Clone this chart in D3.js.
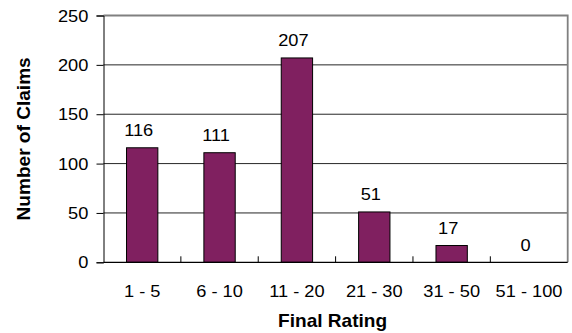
<!DOCTYPE html>
<html>
<head>
<meta charset="utf-8">
<script src="https://cdn.jsdelivr.net/npm/d3@7"></script>
<style>
  html, body { margin: 0; padding: 0; background: #fff; }
  svg { display: block; }
  text { font-family: "Liberation Sans", Arial, sans-serif; fill: #000; }
</style>
</head>
<body>
<script>
const categories = ["1 - 5", "6 - 10", "11 - 20", "21 - 30", "31 - 50", "51 - 100"];
const claims = [116, 111, 207, 51, 17, 0];
const yTicks = [0, 50, 100, 150, 200, 250];
const xTitle = "Final Rating";
const yTitle = "Number of Claims";

const W = 572, H = 333;
const mLeft = 103.5, mRight = 567.7, mTop = 15.5, mBottom = 262.3;
const SX = 1.14;

const svg = d3.select("body").append("svg").attr("width", W).attr("height", H);

const x = d3.scaleBand().domain(categories).range([mLeft, mRight])
  .paddingInner(0.595).paddingOuter(0.2975);
const xb = d3.scaleBand().domain(categories).range([mLeft, mRight]).padding(0);
const y = d3.scaleLinear().domain([0, 250]).range([mBottom, mTop]);

// gridlines
svg.append("g").selectAll("line").data(yTicks.filter(d => d > 0 && d < 250)).join("line")
  .attr("x1", mLeft).attr("x2", mRight)
  .attr("y1", d => y(d)).attr("y2", d => y(d))
  .attr("stroke", "#262626").attr("stroke-width", 1);

// plot border (top & right grey)
svg.append("path")
  .attr("d", `M${mLeft},${y(250)}H${mRight}V${mBottom}`)
  .attr("fill", "none").attr("stroke", "#808080").attr("stroke-width", 1.8);

// bars
svg.append("g").selectAll("rect").data(categories).join("rect")
  .attr("x", d => x(d))
  .attr("width", x.bandwidth())
  .attr("y", (d, i) => y(claims[i]))
  .attr("height", (d, i) => y(0) - y(claims[i]))
  .attr("fill", "#802060").attr("stroke", "#000").attr("stroke-width", 1);

// y axis
const yAxis = d3.axisLeft(y).tickValues(yTicks).tickSize(7).tickFormat("");
const ga = svg.append("g").attr("transform", `translate(${mLeft},0)`).call(yAxis);
ga.select(".domain").attr("stroke", "#000");
ga.selectAll(".tick line").attr("stroke", "#000");

// x axis line
svg.append("line").attr("x1", mLeft).attr("x2", mRight)
  .attr("y1", mBottom).attr("y2", mBottom).attr("stroke", "#000").attr("stroke-width", 1.2);

// x ticks at category boundaries (inward)
svg.append("g").selectAll("line").data(categories.slice(1)).join("line")
  .attr("x1", d => xb(d)).attr("x2", d => xb(d))
  .attr("y1", mBottom).attr("y2", mBottom - 6)
  .attr("stroke", "#000");

// y tick labels
svg.append("g").selectAll("text").data(yTicks).join("text")
  .attr("transform", d => `translate(88.3,${y(d) + 6}) scale(${SX},1)`)
  .attr("text-anchor", "end").attr("font-size", 16).text(d => d);

// x tick labels
svg.append("g").selectAll("text").data(categories).join("text")
  .attr("transform", d => `translate(${x(d) + x.bandwidth() / 2},296.7) scale(${SX},1)`)
  .attr("text-anchor", "middle").attr("font-size", 16).text(d => d);

// value labels
svg.append("g").selectAll("text").data(categories).join("text")
  .attr("transform", (d, i) => `translate(${x(d) + x.bandwidth() / 2 - 3.5},${y(claims[i]) - 11.5}) scale(${SX},1)`)
  .attr("text-anchor", "middle").attr("font-size", 16).text((d, i) => claims[i]);

// axis titles
svg.append("text")
  .attr("transform", `translate(${(mLeft + mRight) / 2 - 3},326.7) scale(1.09,1)`)
  .attr("text-anchor", "middle").attr("font-size", 17.5).attr("font-weight", "bold")
  .text(xTitle);

svg.append("text")
  .attr("transform", `translate(29.5,${(mTop + mBottom) / 2}) rotate(-90) scale(1.09,1)`)
  .attr("text-anchor", "middle").attr("font-size", 17.5).attr("font-weight", "bold")
  .text(yTitle);
</script>
</body>
</html>
